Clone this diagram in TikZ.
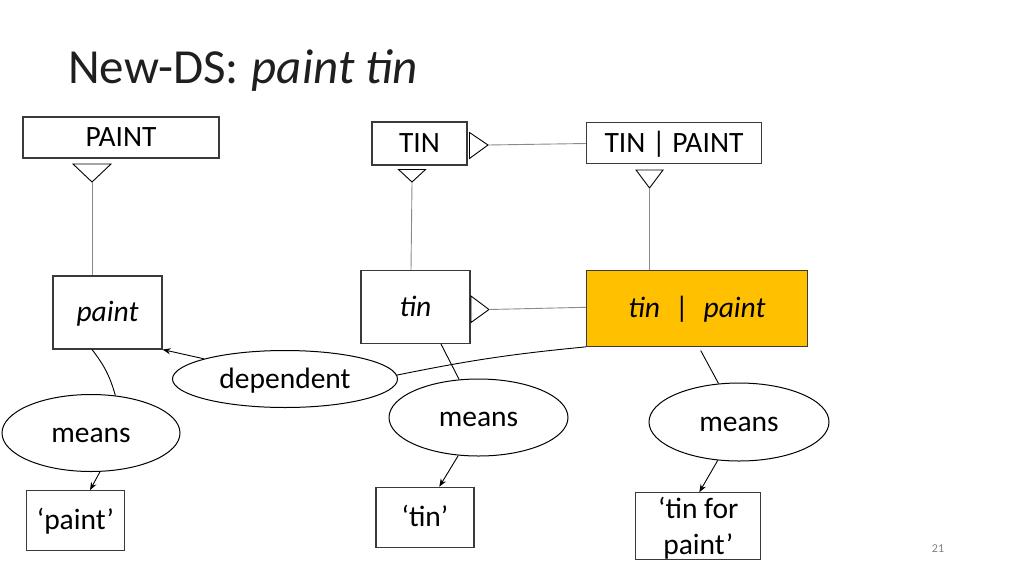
\documentclass[tikz,border=0pt]{standalone}
\usepackage{fontspec}
\setmainfont{Carlito}
\usetikzlibrary{arrows.meta,shapes.geometric,calc}
\definecolor{gold}{HTML}{FFC000}
\definecolor{edge}{HTML}{3A3A3A}
\definecolor{thin}{HTML}{8A8A8A}
\begin{document}
\begin{tikzpicture}[x=1pt,y=-1pt,
  lbl/.style={font=\fontsize{29.5}{36}\selectfont},
  fixed/.style={text height=22pt,text depth=4pt},
  box/.style={lbl,draw=edge,line width=1.1pt,rectangle,inner sep=0pt,align=center},
  oval/.style={lbl,fixed,draw=black,line width=1pt,ellipse,inner sep=0pt},
  tri/.style={draw=black,line width=0.9pt,line join=miter},
  hier/.style={draw=thin,line width=0.9pt},
  link/.style={draw=black,line width=0.9pt},
  arr/.style={link,-{Stealth[length=8pt,width=6pt]}}]
\useasboundingbox (0,0) rectangle (1024,576);

% title
\node[anchor=base west,inner sep=0pt,font=\fontsize{49}{56}\selectfont,text=black!88] (title) at (68,83) {New-DS:\hspace{13pt}\textit{paint tin}};

% upper boxes
\node[box,fixed,minimum width=196pt,minimum height=41pt] (PAINT) at (121,137.5) {PAINT};
\node[box,fixed,minimum width=95pt,minimum height=43pt] (TIN) at (419.5,143.5) {TIN};
\node[box,fixed,minimum width=175pt,minimum height=41pt] (TINPAINT) at (674,143) {TIN | PAINT};

% middle boxes
\node[box,fixed,minimum width=109pt,minimum height=73pt] (paint) at (107.5,312.5) {\textit{paint}};
\node[box,fixed,minimum width=109pt,minimum height=73pt] (tin) at (415.5,307) {\textit{tin}};
\node[box,fixed,fill=gold,minimum width=221pt,minimum height=76pt] (tinpaint) at (697,308.3) {\textit{tin}\hspace{15pt}|\hspace{15pt}\textit{paint}};

% ellipses
\node[oval,minimum width=225pt,minimum height=57pt] (dep) at (285,379) {dependent};
\node[oval,minimum width=178pt,minimum height=77pt] (m1) at (91,433) {means};
\node[oval,minimum width=179pt,minimum height=77pt] (m2) at (478.5,417.5) {means};
\node[oval,minimum width=180pt,minimum height=78pt] (m3) at (739,422) {means};

% lower boxes
\node[box,fixed,minimum width=98pt,minimum height=60pt] (qp) at (75.5,520.7) {‘paint’};
\node[box,fixed,minimum width=98pt,minimum height=60pt] (qt) at (425,517.3) {‘tin’};
\node[box,minimum width=125pt,minimum height=67pt] (qtp) at (698.3,526.3) {};
\node[lbl,align=center,inner sep=0pt] (qtptext) at (698.3,528.3) {‘tin for\\paint’};

% page number
\node[font=\fontsize{12}{14}\selectfont,text=black!50] (pg) at (938,549) {21};

% triangles and hierarchy lines
\coordinate (a1) at (92,182);
\draw[tri] (73,164) -- (111,164) -- (a1) -- cycle;
\draw[hier] (a1) -- (paint.north -| a1);

\coordinate (b1) at (412,182);
\draw[tri] (398.5,169.5) -- (425.5,169.5) -- (b1) -- cycle;
\draw[hier] (b1) -- ([xshift=-4.5pt]tin.north);

\coordinate (c1) at (488,145);
\draw[tri] (469.5,132.5) -- (469.5,158.5) -- (c1) -- cycle;
\draw[hier] (c1) -- ([yshift=-0.5pt]TINPAINT.west);

\coordinate (d1) at (649.5,188);
\draw[tri] (636,170) -- (663,170) -- (d1) -- cycle;
\draw[hier] (d1) -- (tinpaint.north -| d1);

\coordinate (e1) at (489,309.5);
\draw[tri] (471,296) -- (471,322.5) -- (e1) -- cycle;
\draw[hier] (e1) -- ([yshift=1pt]tinpaint.west);

% dependent links
\draw[arr] (dep.166) -- (paint.south east);
\draw[link] (dep.2) to[bend left=3] (tinpaint.south west);

% means links
\draw[link] ([xshift=-15.5pt]paint.south) to[bend left=11] (m1.57);
\draw[link] ([xshift=25.5pt]tin.south) -- (m2.117);
\draw[link] ([xshift=3.7pt,yshift=-3.7pt]tinpaint.south) -- (m3.118.6);

\draw[arr] (m1.-77) -- ([xshift=14.5pt]qp.north);
\draw[arr] (m2.-118.4) -- ([xshift=14.3pt]qt.north);
\draw[arr] (m3.-119) -- ([xshift=1pt]qtp.north);
\end{tikzpicture}
\end{document}
